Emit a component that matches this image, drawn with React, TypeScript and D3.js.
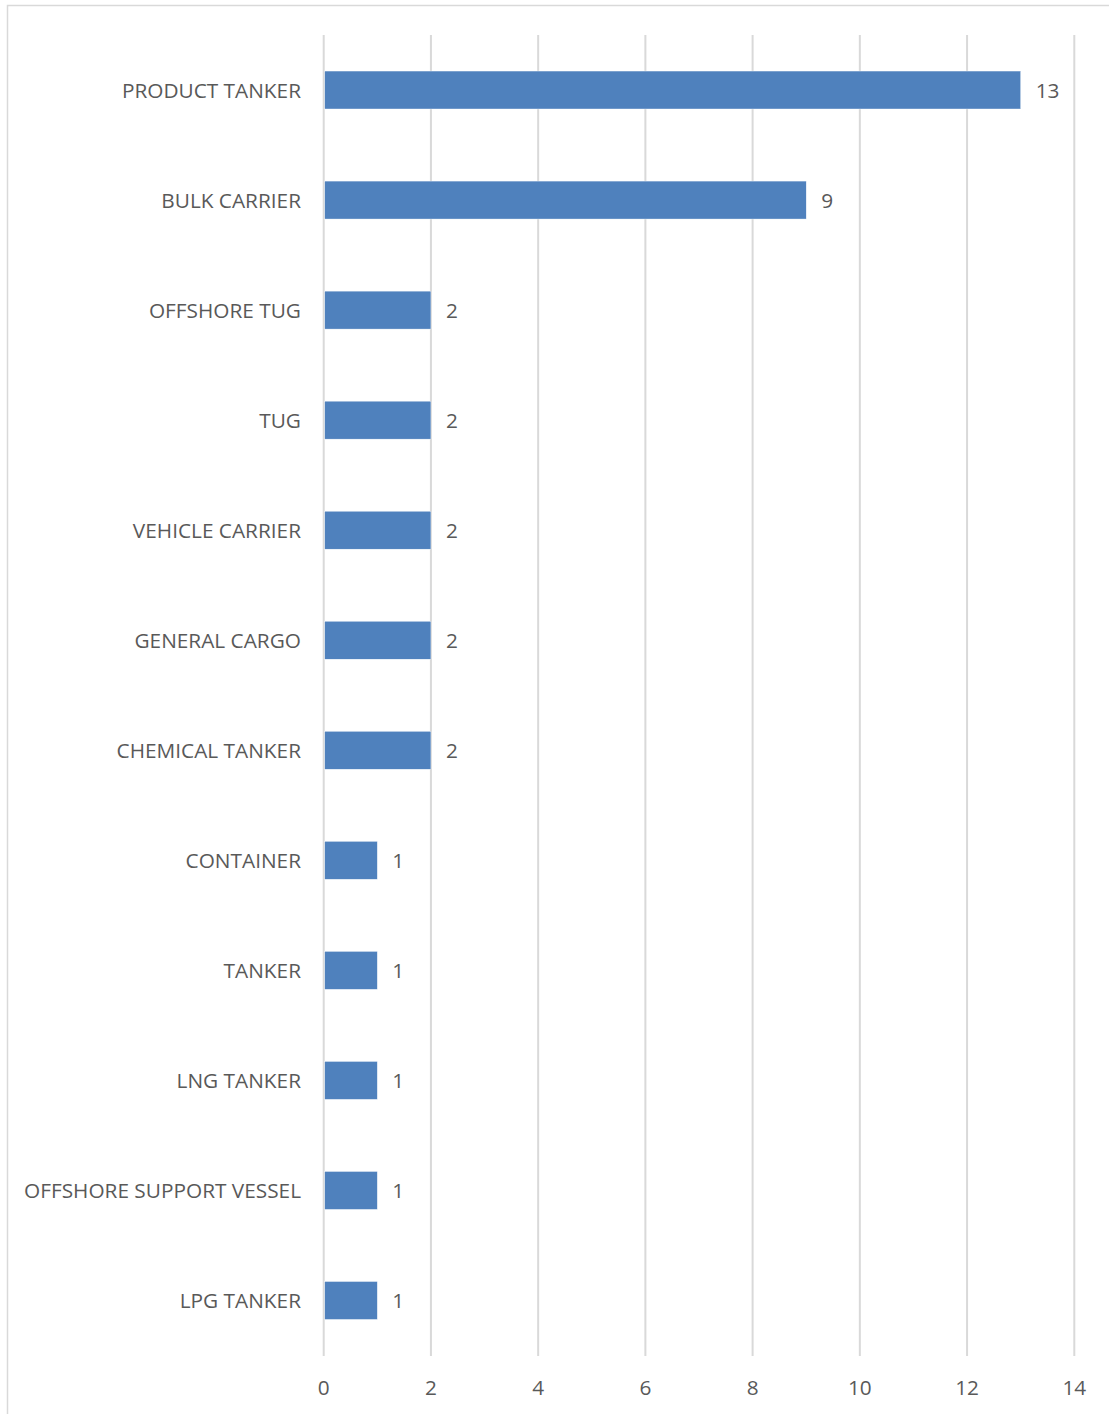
import React from "react";
import * as d3 from "d3";

const categories = [
  "PRODUCT TANKER",
  "BULK CARRIER",
  "OFFSHORE TUG",
  "TUG",
  "VEHICLE CARRIER",
  "GENERAL CARGO",
  "CHEMICAL TANKER",
  "CONTAINER",
  "TANKER",
  "LNG TANKER",
  "OFFSHORE SUPPORT VESSEL",
  "LPG TANKER",
];
const values = [13, 9, 2, 2, 2, 2, 2, 1, 1, 1, 1, 1];
const xTicks = [0, 2, 4, 6, 8, 10, 12, 14];

const W = 1109;
const H = 1414;
const FONT = "'Open Sans', 'Noto Sans', sans-serif";
const TEXT = "#595959";
const FS = 20.8;

export default function App() {
  const x = d3.scaleLinear().domain([0, 14]).range([323.7, 1074.3]);
  const y = d3
    .scaleBand<string>()
    .domain(categories)
    .range([35, 1355.5])
    .paddingInner(0.655)
    .paddingOuter(0.3275);
  const bw = y.bandwidth();
  return (
    <svg
      width={W}
      height={H}
      style={{ position: "absolute", left: 0, top: 0 }}
      fontFamily={FONT}
    >
      <rect x={0} y={0} width={W} height={H} fill="#fff" />
      <rect x={7.5} y={5.5} width={W + 10} height={H + 10} fill="none" stroke="#d9d9d9" strokeWidth={1.5} />
      {xTicks.map((t) => (
        <g key={t}>
          <line x1={x(t)} x2={x(t)} y1={35} y2={1356} stroke="#d9d9d9" strokeWidth={2} />
          <text x={x(t)} y={1394.5} textAnchor="middle" fontSize={FS} fill={TEXT}>
            {t}
          </text>
        </g>
      ))}
      {categories.map((c, i) => {
        const yc = (y(c) as number) + bw / 2;
        return (
          <g key={c}>
            <rect
              x={x(0) + 1}
              y={y(c) as number}
              width={x(values[i]) - x(0) - 1}
              height={bw}
              fill="#4f81bd"
              stroke="#fff"
              strokeWidth={0.4}
            />
            <text x={301} y={yc + 7.5} textAnchor="end" fontSize={FS} fill={TEXT}>
              {c}
            </text>
            <text x={x(values[i]) + 15} y={yc + 7.5} fontSize={FS} fill={TEXT}>
              {values[i]}
            </text>
          </g>
        );
      })}
    </svg>
  );
}
